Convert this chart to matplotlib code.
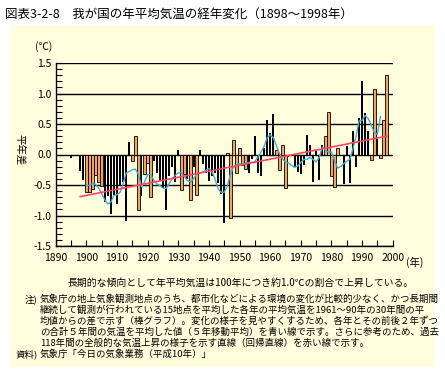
import matplotlib
matplotlib.use("Agg")
import matplotlib.pyplot as plt
from matplotlib.patches import Rectangle
from matplotlib.ticker import MultipleLocator, FormatStrFormatter

plt.rcParams['font.family'] = ['Noto Sans CJK JP', 'DejaVu Sans']

# ---------------- data ----------------
extra_year = [1895]
extra_value = [-0.05]

years = list(range(1898, 1999))
anomaly = [
    -0.27, -0.42, -0.61, -0.61, -0.57, -0.34, -0.45, -0.51, -0.78, -0.68,   # 1898-1907
    -0.98, -0.67, -0.81, -0.52, -0.45, -1.09, 0.21, -0.10, 0.31, -0.91,     # 1908-1917
    -0.68, -0.32, -0.14, -0.70, -0.11, -0.31, -0.44, -0.55, -0.91, -0.36,   # 1918-1927
    -0.21, -0.45, 0.08, -0.58, -0.32, -0.40, -0.74, -0.21, -0.67, 0.08,     # 1928-1937
    -0.15, -0.31, -0.44, -0.35, -0.30, -0.46, -0.65, -1.13, 0.03, -1.04,    # 1938-1947
    0.24, -0.30, 0.11, -0.18, -0.24, -0.31, -0.08, 0.31, -0.31, -0.35,      # 1948-1957
    0.11, 0.57, 0.35, 0.67, 0.07, -0.25, 0.16, -0.55, -0.04, -0.03,         # 1958-1967
    -0.21, -0.28, -0.32, -0.18, 0.32, 0.15, -0.45, 0.07, -0.42, 0.15,       # 1968-1977
    0.31, 0.70, -0.36, -0.54, 0.11, -0.02, -0.49, 0.14, -0.47, 0.39,        # 1978-1987
    -0.21, 0.60, 1.21, 0.68, 0.38, -0.09, 1.08, 0.26, -0.05, 0.57,          # 1988-1997
    1.31,                                                                   # 1998
]
bar_kind = list(
    "kkoooooo"      # 1898-1905
    "kkkkkkkkk"     # 1906-1914
    "oook"          # 1915-1918
    "ooo"           # 1919-1921
    "kkkkkkkkk"     # 1922-1930
    "ookokok"       # 1931-1937
    "kkkkkkkk"      # 1938-1945
    "ooooooo"       # 1946-1952
    "kkkkkkkkk"     # 1953-1961
    "oooo"          # 1962-1965
    "kkkkkkkkkkkk"  # 1966-1977
    "ooooo"         # 1978-1982
    "kkkkkkkkkk"    # 1983-1992
    "ookooo"        # 1993-1998
)

ma_years = list(range(1900, 1997))
ma_values = [
    -0.50, -0.51, -0.48, -0.49, -0.55, -0.64, -0.74, -0.81, -0.78, -0.67,   # 1900-1909
    -0.66, -0.62, -0.48, -0.30, -0.28, -0.25, -0.24, -0.33, -0.53, -0.45,   # 1910-1919
    -0.33, -0.33, -0.42, -0.48, -0.51, -0.55, -0.56, -0.48, -0.40, -0.34,   # 1920-1929
    -0.30, -0.30, -0.36, -0.43, -0.45, -0.40, -0.32, -0.30, -0.29, -0.26,   # 1930-1939
    -0.23, -0.28, -0.40, -0.56, -0.62, -0.62, -0.52, -0.33, -0.21, -0.17,   # 1940-1949
    -0.15, -0.17, -0.14, -0.13, -0.13, -0.12, -0.04, 0.04, 0.13, 0.27,      # 1950-1959
    0.32, 0.28, 0.15, 0.02, -0.07, -0.13, -0.14, -0.18, -0.21, -0.19,       # 1960-1969
    -0.13, -0.08, -0.08, -0.05, -0.08, -0.12, -0.05, 0.12, 0.07, 0.04,      # 1970-1979
    0.04, -0.10, -0.22, -0.20, -0.15, -0.11, -0.08, 0.09, 0.29, 0.55,       # 1980-1989
    0.56, 0.64, 0.59, 0.48, 0.36, 0.33, 0.62,                               # 1990-1996
]

trend_years = [1898, 1998]
trend_values = [-0.69, 0.30]

xticks_major = list(range(1890, 2001, 10))
yticks_major = [-1.5, -1.0, -0.5, 0.0, 0.5, 1.0, 1.5]

# ---------------- figure ----------------
W, H = 445, 377
fig = plt.figure(figsize=(W / 100, H / 100), dpi=100)
fig.patch.set_facecolor('white')

def fx(px):
    return px / W

def fy(py):
    return 1 - py / H

bg = Rectangle((fx(10), fy(367)), fx(435) - fx(10), fy(25) - fy(367),
               transform=fig.transFigure, facecolor='#FFFFDD', edgecolor='none', zorder=-10)
fig.patches.append(bg)

ax = fig.add_axes([fx(55.7), fy(246), fx(392.7) - fx(55.7), fy(63) - fy(246)])
ax.set_zorder(5)
ax.patch.set_alpha(0)

ORANGE = '#F5A55A'
bk_x = [y for y, k in zip(years, bar_kind) if k == 'k'] + extra_year
bk_v = [v for v, k in zip(anomaly, bar_kind) if k == 'k'] + extra_value
or_x = [y for y, k in zip(years, bar_kind) if k == 'o']
or_v = [v for v, k in zip(anomaly, bar_kind) if k == 'o']

for yv in yticks_major:
    ax.axhline(yv, color='black', lw=1.0, zorder=1)

ax.bar(bk_x, bk_v, width=0.62, color='black', edgecolor='none', zorder=3)
ax.bar(or_x, or_v, width=0.85, color=ORANGE, edgecolor='black', linewidth=0.6, zorder=3)

ax.plot(ma_years, ma_values, color='#3AAEE0', lw=1.0, zorder=5)
ax.plot(trend_years, trend_values, color='#FF4466', lw=1.2, zorder=6)

ax.set_xlim(1890, 2000)
ax.set_ylim(-1.5, 1.5)

for s in ['top', 'right']:
    ax.spines[s].set_visible(False)
for s in ['left', 'bottom']:
    ax.spines[s].set_color('black')
    ax.spines[s].set_linewidth(1.0)

ax.set_xticks(xticks_major)
ax.set_xticklabels([str(x) for x in xticks_major])
ax.xaxis.set_minor_locator(MultipleLocator(5))
ax.set_yticks(yticks_major)
ax.yaxis.set_major_formatter(FormatStrFormatter('%.1f'))
ax.yaxis.set_minor_locator(MultipleLocator(0.1))
ax.tick_params(axis='both', which='both', direction='in', color='black', width=0.8)
ax.tick_params(axis='both', which='major', length=4, labelsize=7.5)
ax.tick_params(axis='both', which='minor', length=4)
ax.tick_params(axis='x', which='major', pad=5)
ax.tick_params(axis='y', which='major', pad=3)

fig.text(fx(44), fy(47), '(℃)', fontsize=7.5, ha='center', va='center')
fig.text(fx(20), fy(150), '平年差', fontsize=7.5, ha='center', va='center', rotation=270)
fig.text(fx(406), fy(262), '(年)', fontsize=7.5, ha='left', va='center')

fig.text(fx(5), fy(14), '図表3-2-8　我が国の年平均気温の経年変化（1898～1998年）',
         fontsize=9, ha='left', va='center')

fig.text(fx(68), fy(283), '長期的な傾向として年平均気温は100年につき約1.0℃の割合で上昇している。',
         fontsize=7.1, ha='left', va='center')

note_lines = [
    '気象庁の地上気象観測地点のうち、都市化などによる環境の変化が比較的少なく、かつ長期間',
    '継続して観測が行われている15地点を平均した各年の平均気温を1961～90年の30年間の平',
    '均値からの差で示す（棒グラフ）。変化の様子を見やすくするため、各年とその前後２年ずつ',
    'の合計５年間の気温を平均した値（５年移動平均）を青い線で示す。さらに参考のため、過去',
    '118年間の全般的な気温上昇の様子を示す直線（回帰直線）を赤い線で示す。',
]
fig.text(fx(25), fy(299), '注)', fontsize=6.8, ha='left', va='center')
for i, line in enumerate(note_lines):
    fig.text(fx(40), fy(299 + i * 11), line, fontsize=6.8, ha='left', va='center')
fig.text(fx(16), fy(354), '資料)', fontsize=6.8, ha='left', va='center')
fig.text(fx(40), fy(354), '気象庁「今日の気象業務（平成10年）」', fontsize=6.8, ha='left', va='center')

fig.savefig('out.png', dpi=100, facecolor=fig.get_facecolor())
